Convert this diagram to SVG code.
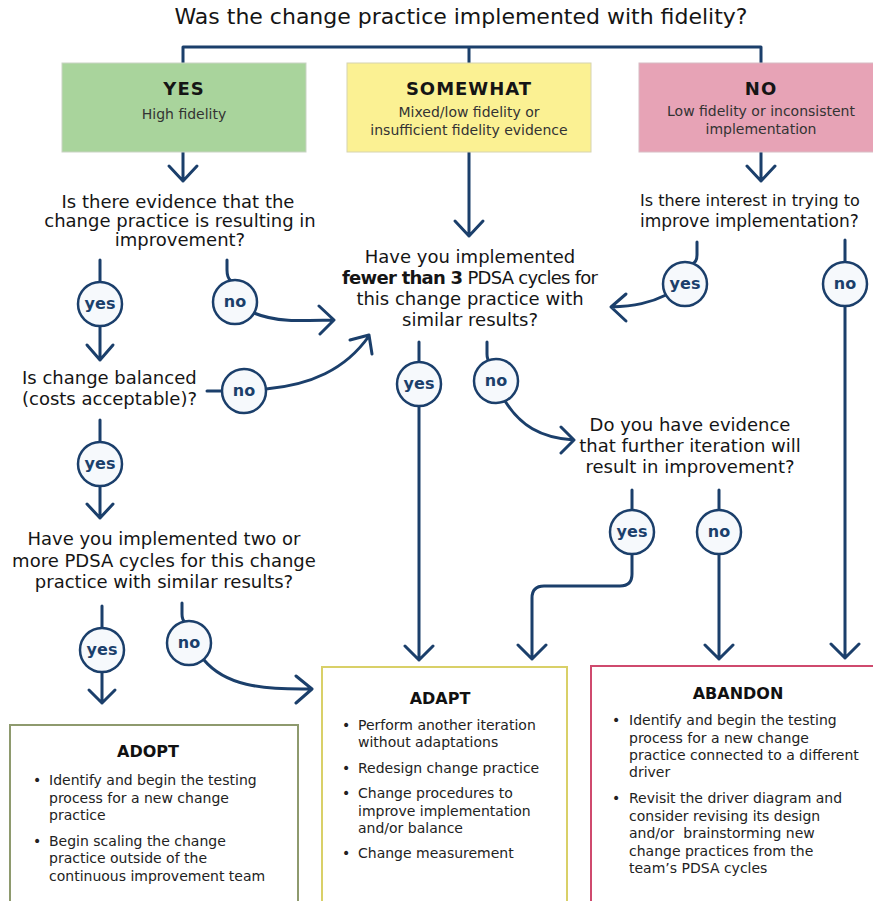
<svg xmlns="http://www.w3.org/2000/svg" width="873" height="901" viewBox="0 0 873 901">
<style>
  .q { font-family: "DejaVu Sans", "Liberation Sans", sans-serif; font-size: 18px; fill: #151515; }
  .title { font-family: "DejaVu Sans", "Liberation Sans", sans-serif; font-size: 22px; fill: #151515; }
  .hd { font-family: "DejaVu Sans", "Liberation Sans", sans-serif; font-size: 18px; font-weight: bold; fill: #151515; letter-spacing: 1px; }
  .sub { font-family: "DejaVu Sans", "Liberation Sans", sans-serif; font-size: 14px; fill: #333; }
  .bt { font-family: "DejaVu Sans", "Liberation Sans", sans-serif; font-size: 14px; fill: #222; }
  .bh { font-family: "DejaVu Sans", "Liberation Sans", sans-serif; font-size: 16px; font-weight: bold; fill: #111; }
  .lab { font-family: "DejaVu Sans", "Liberation Sans", sans-serif; font-size: 16px; font-weight: bold; fill: #1b3f6b; }
  .c { fill: #f6f9fc; stroke: #1b3f6b; stroke-width: 2.5; }
  .ln { fill: none; stroke: #1b3f6b; stroke-width: 3; stroke-linecap: round; stroke-linejoin: round; }
</style>

<text class="title" x="461" y="24" text-anchor="middle">Was the change practice implemented with fidelity?</text>

<g id="connectors">
  <path class="ln" d="M183,63 V47 H761 V63 M469,47 V63"/>
  <path class="ln" d="M183,152 V181 M169,166 L183,181 L197,166"/>
  <path class="ln" d="M469,152 V236 M455,221 L469,236 L483,221"/>
  <path class="ln" d="M761,152 V181 M747,166 L761,181 L775,166"/>
  <!-- left column -->
  <path class="ln" d="M100,260 V282 M100,326 V360 M87,345 L100,360 L113,345"/>
  <path class="ln" d="M227,260 V270 Q227,278 231,281"/>
  <path class="ln" d="M254,313 C275,322 300,321 333,320 M319,306 L334,320 L320,334"/>
  <path class="ln" d="M207,391 H222"/>
  <path class="ln" d="M266,389 C310,385 345,370 369,336 M350,340 L369,335 L372,354"/>
  <path class="ln" d="M100,420 V442 M100,486 V518 M87,504 L100,518 L113,504"/>
  <path class="ln" d="M102,606 V628 M102,672 V703 M89,690 L102,703 L115,690"/>
  <path class="ln" d="M182,603 V614 Q182,620 185,622"/>
  <path class="ln" d="M204,660 C225,685 260,690 312,689 M296,676 L312,689 L296,703"/>
  <!-- center -->
  <path class="ln" d="M419,342 V363 M419,405 V660 M405,646 L419,660 L433,646"/>
  <path class="ln" d="M487,342 V354 Q487,360 490,362"/>
  <path class="ln" d="M505,401 C520,425 540,438 574,440 M561,427 L574,440 L561,453"/>
  <path class="ln" d="M632,490 V510 M632,554 V574 Q632,586 620,586 H544 Q532,586 532,598 V659 M518,645 L532,659 L546,645"/>
  <path class="ln" d="M719,490 V510 M719,554 V659 M705,645 L719,659 L733,645"/>
  <!-- right -->
  <path class="ln" d="M697,242 V255 Q697,262 692,264"/>
  <path class="ln" d="M666,295 C650,303 635,306 611,307 M626,294 L611,307 L626,321"/>
  <path class="ln" d="M845,240 V262 M845,306 V658 M831,644 L845,658 L859,644"/>
</g>

<g id="yes-box">
  <rect x="62" y="63" width="244" height="89" fill="#a9d49c" stroke="#c9d3c4" stroke-width="1"/>
  <text class="hd" x="184" y="95" text-anchor="middle">YES</text>
  <text class="sub" x="184" y="119" text-anchor="middle">High fidelity</text>
</g>
<g id="somewhat-box">
  <rect x="347" y="63" width="244" height="89" fill="#fbf193" stroke="#d6d3b0" stroke-width="1"/>
  <text class="hd" x="469" y="95" text-anchor="middle">SOMEWHAT</text>
  <text class="sub" x="469" y="117" text-anchor="middle">Mixed/low fidelity or</text>
  <text class="sub" x="469" y="135" text-anchor="middle">insufficient fidelity evidence</text>
</g>
<g id="no-box">
  <rect x="639" y="63" width="240" height="89" fill="#e7a3b6" stroke="#d8bcc4" stroke-width="1"/>
  <text class="hd" x="761" y="95" text-anchor="middle">NO</text>
  <text class="sub" x="761" y="116" text-anchor="middle">Low fidelity or inconsistent</text>
  <text class="sub" x="761" y="134" text-anchor="middle">implementation</text>
</g>

<g id="q-evidence">
  <text class="q" x="178" y="208" text-anchor="middle">Is there evidence that the</text>
  <text class="q" x="180" y="227" text-anchor="middle">change practice is resulting in</text>
  <text class="q" x="180" y="246" text-anchor="middle">improvement?</text>
</g>
<g id="q-fewer">
  <text class="q" x="470" y="263" text-anchor="middle">Have you implemented</text>
  <text class="q" x="470" y="284" text-anchor="middle" textLength="256"><tspan font-weight="bold">fewer than 3</tspan> PDSA cycles for</text>
  <text class="q" x="470" y="305" text-anchor="middle">this change practice with</text>
  <text class="q" x="470" y="326" text-anchor="middle">similar results?</text>
</g>
<g id="q-interest">
  <text class="q" x="640" y="206" style="font-size:16px">Is there interest in trying to</text>
  <text class="q" x="640" y="227" style="font-size:17px">improve implementation?</text>
</g>
<g id="q-balanced">
  <text class="q" x="22" y="384">Is change balanced</text>
  <text class="q" x="22" y="405">(costs acceptable)?</text>
</g>
<g id="q-further">
  <text class="q" x="690" y="431" text-anchor="middle">Do you have evidence</text>
  <text class="q" x="690" y="452" text-anchor="middle">that further iteration will</text>
  <text class="q" x="690" y="473" text-anchor="middle">result in improvement?</text>
</g>
<g id="q-two">
  <text class="q" x="164" y="545" text-anchor="middle">Have you implemented two or</text>
  <text class="q" x="164" y="567" text-anchor="middle">more PDSA cycles for this change</text>
  <text class="q" x="164" y="588" text-anchor="middle">practice with similar results?</text>
</g>

<g id="c1"><circle class="c" cx="100" cy="304" r="22"/><text class="lab" x="100" y="309" text-anchor="middle">yes</text></g>
<g id="c2"><circle class="c" cx="235" cy="302" r="22"/><text class="lab" x="235" y="307" text-anchor="middle">no</text></g>
<g id="c3"><circle class="c" cx="244" cy="391" r="22"/><text class="lab" x="244" y="396" text-anchor="middle">no</text></g>
<g id="c4"><circle class="c" cx="100" cy="464" r="22"/><text class="lab" x="100" y="469" text-anchor="middle">yes</text></g>
<g id="c5"><circle class="c" cx="102" cy="650" r="22"/><text class="lab" x="102" y="655" text-anchor="middle">yes</text></g>
<g id="c6"><circle class="c" cx="189" cy="643" r="22"/><text class="lab" x="189" y="648" text-anchor="middle">no</text></g>
<g id="c7"><circle class="c" cx="419" cy="384" r="22"/><text class="lab" x="419" y="389" text-anchor="middle">yes</text></g>
<g id="c8"><circle class="c" cx="496" cy="381" r="22"/><text class="lab" x="496" y="386" text-anchor="middle">no</text></g>
<g id="c9"><circle class="c" cx="685" cy="284" r="22"/><text class="lab" x="685" y="289" text-anchor="middle">yes</text></g>
<g id="c10"><circle class="c" cx="845" cy="284" r="22"/><text class="lab" x="845" y="289" text-anchor="middle">no</text></g>
<g id="c11"><circle class="c" cx="632" cy="532" r="22"/><text class="lab" x="632" y="537" text-anchor="middle">yes</text></g>
<g id="c12"><circle class="c" cx="719" cy="532" r="22"/><text class="lab" x="719" y="537" text-anchor="middle">no</text></g>

<g id="adopt">
  <rect x="10" y="725" width="288" height="190" fill="#ffffff" stroke="#8e9a6e" stroke-width="2"/>
  <text class="bh" x="148" y="757" text-anchor="middle">ADOPT</text>
  <text class="bt" x="33" y="785">•</text>
  <text class="bt" x="49" y="785">Identify and begin the testing</text>
  <text class="bt" x="49" y="803">process for a new change</text>
  <text class="bt" x="49" y="820">practice</text>
  <text class="bt" x="33" y="846">•</text>
  <text class="bt" x="49" y="846">Begin scaling the change</text>
  <text class="bt" x="49" y="863">practice outside of the</text>
  <text class="bt" x="49" y="881">continuous improvement team</text>
</g>
<g id="adapt">
  <rect x="322" y="667" width="245" height="250" fill="#ffffff" stroke="#d9d068" stroke-width="2"/>
  <text class="bh" x="440" y="704" text-anchor="middle">ADAPT</text>
  <text class="bt" x="342" y="730">•</text>
  <text class="bt" x="358" y="730">Perform another iteration</text>
  <text class="bt" x="358" y="747">without adaptations</text>
  <text class="bt" x="342" y="773">•</text>
  <text class="bt" x="358" y="773">Redesign change practice</text>
  <text class="bt" x="342" y="798">•</text>
  <text class="bt" x="358" y="798">Change procedures to</text>
  <text class="bt" x="358" y="816">improve implementation</text>
  <text class="bt" x="358" y="833">and/or balance</text>
  <text class="bt" x="342" y="858">•</text>
  <text class="bt" x="358" y="858">Change measurement</text>
</g>
<g id="abandon">
  <rect x="591" y="666" width="290" height="250" fill="#ffffff" stroke="#cf4a6e" stroke-width="2"/>
  <text class="bh" x="738" y="699" text-anchor="middle">ABANDON</text>
  <text class="bt" x="612" y="725">•</text>
  <text class="bt" x="629" y="725">Identify and begin the testing</text>
  <text class="bt" x="629" y="743">process for a new change</text>
  <text class="bt" x="629" y="760">practice connected to a different</text>
  <text class="bt" x="629" y="777">driver</text>
  <text class="bt" x="612" y="803">•</text>
  <text class="bt" x="629" y="803">Revisit the driver diagram and</text>
  <text class="bt" x="629" y="821">consider revising its design</text>
  <text class="bt" x="629" y="838" xml:space="preserve">and/or  brainstorming new</text>
  <text class="bt" x="629" y="856">change practices from the</text>
  <text class="bt" x="629" y="873">team’s PDSA cycles</text>
</g>
</svg>
